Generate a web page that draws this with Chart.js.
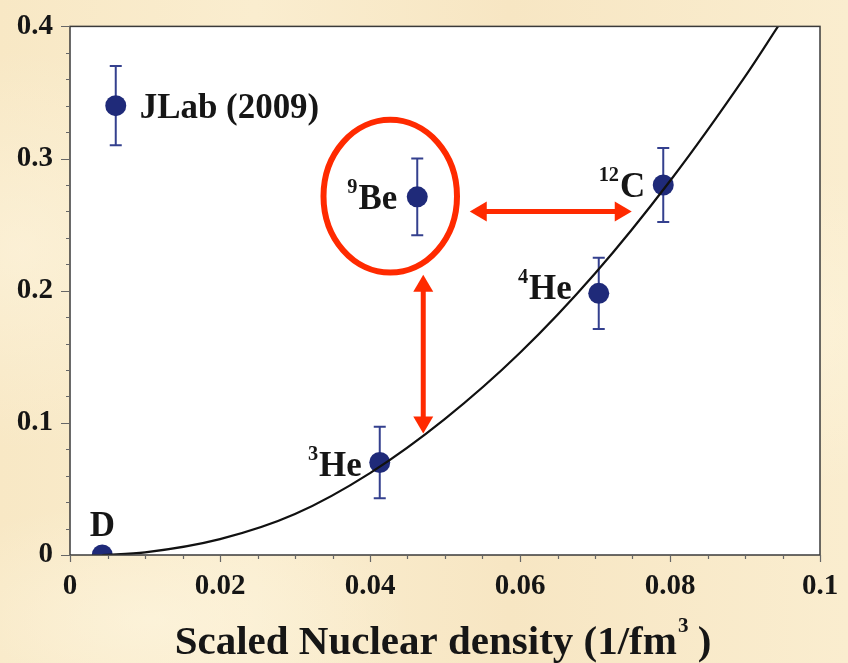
<!DOCTYPE html>
<html><head><meta charset="utf-8">
<script src="https://cdn.jsdelivr.net/npm/chart.js@4"></script>
<style>
html,body{margin:0;padding:0;}
body{width:848px;height:663px;overflow:hidden;
background:
 radial-gradient(ellipse 260px 120px at 150px 620px, rgba(255,249,230,0.5), rgba(255,249,230,0)),
 radial-gradient(ellipse 300px 160px at 760px 330px, rgba(255,248,226,0.45), rgba(255,248,226,0)),
 radial-gradient(ellipse 200px 200px at 20px 250px, rgba(255,249,232,0.45), rgba(255,249,232,0)),
 linear-gradient(90deg, #f8e8c5 0%, #faedcf 30%, #f7e6c3 60%, #faedcf 100%);}
#wrap{position:relative;width:848px;height:663px;}
</style></head>
<body><div id="wrap"><canvas id="c" width="848" height="663"></canvas></div>
<script>
// ---- data ----
const nuclei    = ['D', 'JLab', '9Be', '3He', '4He', '12C'];
const density   = [0.0043, 0.0061, 0.0463, 0.0413, 0.0705, 0.0791];
const emcSlope  = [0.000, 0.340, 0.271, 0.070, 0.198, 0.280];
const errUp     = [0.000, 0.030, 0.029, 0.027, 0.027, 0.028];
const errDown   = [0.000, 0.030, 0.029, 0.027, 0.027, 0.028];
const labelSup  = ['', '', '9', '3', '4', '12'];
const labelMain = ['D', 'JLab (2009)', 'Be', 'He', 'He', 'C'];
const fitX = [0.0043, 0.010, 0.020, 0.030, 0.040, 0.050, 0.060, 0.070, 0.080, 0.090, 0.0944];
const fitY = [0.000, 0.002, 0.012, 0.031, 0.062, 0.103, 0.153, 0.213, 0.283, 0.362, 0.400];
const xTickValues = [0, 0.02, 0.04, 0.06, 0.08, 0.1];
const yTickValues = [0, 0.1, 0.2, 0.3, 0.4];
const xTitle = 'Scaled Nuclear density (1/fm';
const xTitleSup = '3';
const xTitleEnd = ' )';

// ---- label placement (pixel offsets relative to each point) ----
const labelPlace = [
  {dx: 0,   dy: -19, align: 'center'},
  {dx: 24,  dy: 12,  align: 'left'},
  {dx: -20, dy: 12,  align: 'right'},
  {dx: -18, dy: 14,  align: 'right'},
  {dx: -27, dy: 6,   align: 'right'},
  {dx: -18, dy: 12,  align: 'right'}
];
// red highlight annotations in data units
const ellipseSpec = {cx: 0.0427, cy: 0.2715, rx: 0.0089, ry: 0.0578};
const hArrow = {x1: 0.0533, x2: 0.0749, y: 0.260};
const vArrow = {x: 0.0471, y1: 0.212, y2: 0.092};

const SERIF = '"Liberation Serif", "Times New Roman", serif';
const NAVY = '#1f2a79';
const BAR = '#34408e';
const RED = '#ff2a00';

function fmt(v){ return String(parseFloat(v.toFixed(3))); }

function arrowHead(ctx, x, y, ang){
  const L = 17, W = 10;
  ctx.save(); ctx.translate(x, y); ctx.rotate(ang);
  ctx.beginPath(); ctx.moveTo(0,0); ctx.lineTo(-L, -W); ctx.lineTo(-L, W); ctx.closePath();
  ctx.fill(); ctx.restore();
}

function drawText(ctx, txt, x, y, sx){
  ctx.save(); ctx.translate(x, y); ctx.scale(sx, 1); ctx.fillText(txt, 0, 0); ctx.restore();
}

const deco = {
  id: 'deco',
  beforeDraw(chart){
    const {ctx, chartArea: a} = chart;
    ctx.save(); ctx.fillStyle = '#ffffff';
    ctx.fillRect(a.left, a.top, a.right - a.left, a.bottom - a.top);
    ctx.restore();
  },
  beforeDatasetsDraw(chart){
    const {ctx, scales: {x, y}} = chart;
    ctx.save(); ctx.strokeStyle = BAR; ctx.lineWidth = 2;
    for (let i = 0; i < density.length; i++){
      if (!errUp[i] && !errDown[i]) continue;
      const px = x.getPixelForValue(density[i]);
      const t = y.getPixelForValue(emcSlope[i] + errUp[i]);
      const b = y.getPixelForValue(emcSlope[i] - errDown[i]);
      ctx.beginPath();
      ctx.moveTo(px, t); ctx.lineTo(px, b);
      ctx.moveTo(px - 6, t); ctx.lineTo(px + 6, t);
      ctx.moveTo(px - 6, b); ctx.lineTo(px + 6, b);
      ctx.stroke();
    }
    ctx.restore();
  },
  afterDraw(chart){
    const {ctx, chartArea: a, scales: {x, y}} = chart;
    ctx.save();
    ctx.strokeStyle = '#3a3a3a'; ctx.lineWidth = 1.5;
    ctx.strokeRect(a.left, a.top, a.right - a.left, a.bottom - a.top);
    ctx.lineWidth = 1.2; ctx.strokeStyle = '#666';
    ctx.beginPath();
    for (let k = 0; k <= 20; k++){
      const v = k * 0.005;
      const px = Math.round(x.getPixelForValue(v)) + 0.5;
      const major = k % 4 === 0;
      ctx.moveTo(px, a.bottom); ctx.lineTo(px, a.bottom + (major ? 7 : 4));
    }
    for (let k = 0; k <= 20; k++){
      const v = k * 0.02;
      const py = Math.round(y.getPixelForValue(v)) + 0.5;
      const major = k % 5 === 0;
      ctx.moveTo(a.left, py); ctx.lineTo(a.left - (major ? 9 : 4), py);
    }
    ctx.stroke();

    ctx.fillStyle = '#161616';
    ctx.textBaseline = 'alphabetic';
    ctx.textAlign = 'left';
    const SX = 0.97;
    for (let i = 0; i < density.length; i++){
      const p = labelPlace[i];
      const px = x.getPixelForValue(density[i]) + p.dx;
      const py = y.getPixelForValue(emcSlope[i]) + p.dy;
      const mainFont = 'bold 36px ' + SERIF;
      const supFont = 'bold 21px ' + SERIF;
      ctx.font = mainFont; const mw = ctx.measureText(labelMain[i]).width * SX;
      ctx.font = supFont; const sw = labelSup[i] ? ctx.measureText(labelSup[i]).width * SX + 1 : 0;
      const total = mw + sw;
      let left = p.align === 'left' ? px : p.align === 'right' ? px - total : px - total / 2;
      if (labelSup[i]){ ctx.font = supFont; drawText(ctx, labelSup[i], left, py - 16, SX); }
      ctx.font = mainFont; drawText(ctx, labelMain[i], left + sw, py, SX);
    }

    const TX = 1.0;
    const tf = 'bold 41px ' + SERIF, sf = 'bold 21px ' + SERIF;
    ctx.font = tf; const w1 = ctx.measureText(xTitle).width * TX; const w3 = ctx.measureText(xTitleEnd).width * TX;
    ctx.font = sf; const w2 = ctx.measureText(xTitleSup).width * TX;
    const cx = (a.left + a.right) / 2 - 2;
    let tx = cx - (w1 + w2 + w3) / 2; const ty = 654;
    ctx.font = tf; drawText(ctx, xTitle, tx, ty, TX);
    ctx.font = sf; drawText(ctx, xTitleSup, tx + w1 + 1, ty - 22, TX);
    ctx.font = tf; drawText(ctx, xTitleEnd, tx + w1 + w2, ty, TX);

    ctx.strokeStyle = RED; ctx.fillStyle = RED;
    ctx.lineWidth = 6;
    const ecx = x.getPixelForValue(ellipseSpec.cx), ecy = y.getPixelForValue(ellipseSpec.cy);
    const erx = x.getPixelForValue(ellipseSpec.cx + ellipseSpec.rx) - ecx;
    const ery = ecy - y.getPixelForValue(ellipseSpec.cy + ellipseSpec.ry);
    ctx.beginPath(); ctx.ellipse(ecx, ecy, erx, ery, 0, 0, Math.PI * 2); ctx.stroke();
    ctx.lineWidth = 5;
    const hx1 = x.getPixelForValue(hArrow.x1), hx2 = x.getPixelForValue(hArrow.x2), hy = y.getPixelForValue(hArrow.y);
    ctx.beginPath(); ctx.moveTo(hx1 + 12, hy); ctx.lineTo(hx2 - 12, hy); ctx.stroke();
    arrowHead(ctx, hx1, hy, Math.PI); arrowHead(ctx, hx2, hy, 0);
    const vx = x.getPixelForValue(vArrow.x), vy1 = y.getPixelForValue(vArrow.y1), vy2 = y.getPixelForValue(vArrow.y2);
    ctx.beginPath(); ctx.moveTo(vx, vy1 + 12); ctx.lineTo(vx, vy2 - 12); ctx.stroke();
    arrowHead(ctx, vx, vy1, -Math.PI / 2); arrowHead(ctx, vx, vy2, Math.PI / 2);
    ctx.restore();
  }
};

new Chart(document.getElementById('c'), {
  type: 'scatter',
  data: {
    datasets: [
      {
        label: 'fit',
        data: fitX.map((v, i) => ({x: v, y: fitY[i]})),
        showLine: true, borderColor: '#111', borderWidth: 2.2,
        pointRadius: 0, cubicInterpolationMode: 'monotone', order: 0
      },
      {
        label: 'data',
        data: density.map((v, i) => ({x: v, y: emcSlope[i]})),
        backgroundColor: NAVY, borderColor: NAVY, borderWidth: 0,
        pointRadius: 10.5, order: 1
      }
    ]
  },
  options: {
    responsive: false, animation: false, devicePixelRatio: 1,
    layout: {padding: {top: 23, right: 28, left: 0, bottom: 0}},
    plugins: {legend: {display: false}, tooltip: {enabled: false}},
    scales: {
      x: {
        type: 'linear', min: 0, max: 0.1,
        afterBuildTicks: s => { s.ticks = xTickValues.map(v => ({value: v})); },
        afterFit: s => { s.height = 108; },
        grid: {display: false}, border: {display: false},
        ticks: {callback: v => fmt(v), color: '#151515', padding: 6, maxRotation: 0,
                font: {family: SERIF, weight: 'bold', size: 29}}
      },
      y: {
        type: 'linear', min: 0, max: 0.4,
        afterBuildTicks: s => { s.ticks = yTickValues.map(v => ({value: v})); },
        afterFit: s => { s.width = 70; },
        grid: {display: false}, border: {display: false},
        ticks: {callback: v => fmt(v), color: '#151515', padding: 9,
                font: {family: SERIF, weight: 'bold', size: 29}}
      }
    }
  },
  plugins: [deco]
});
</script>
</body></html>
